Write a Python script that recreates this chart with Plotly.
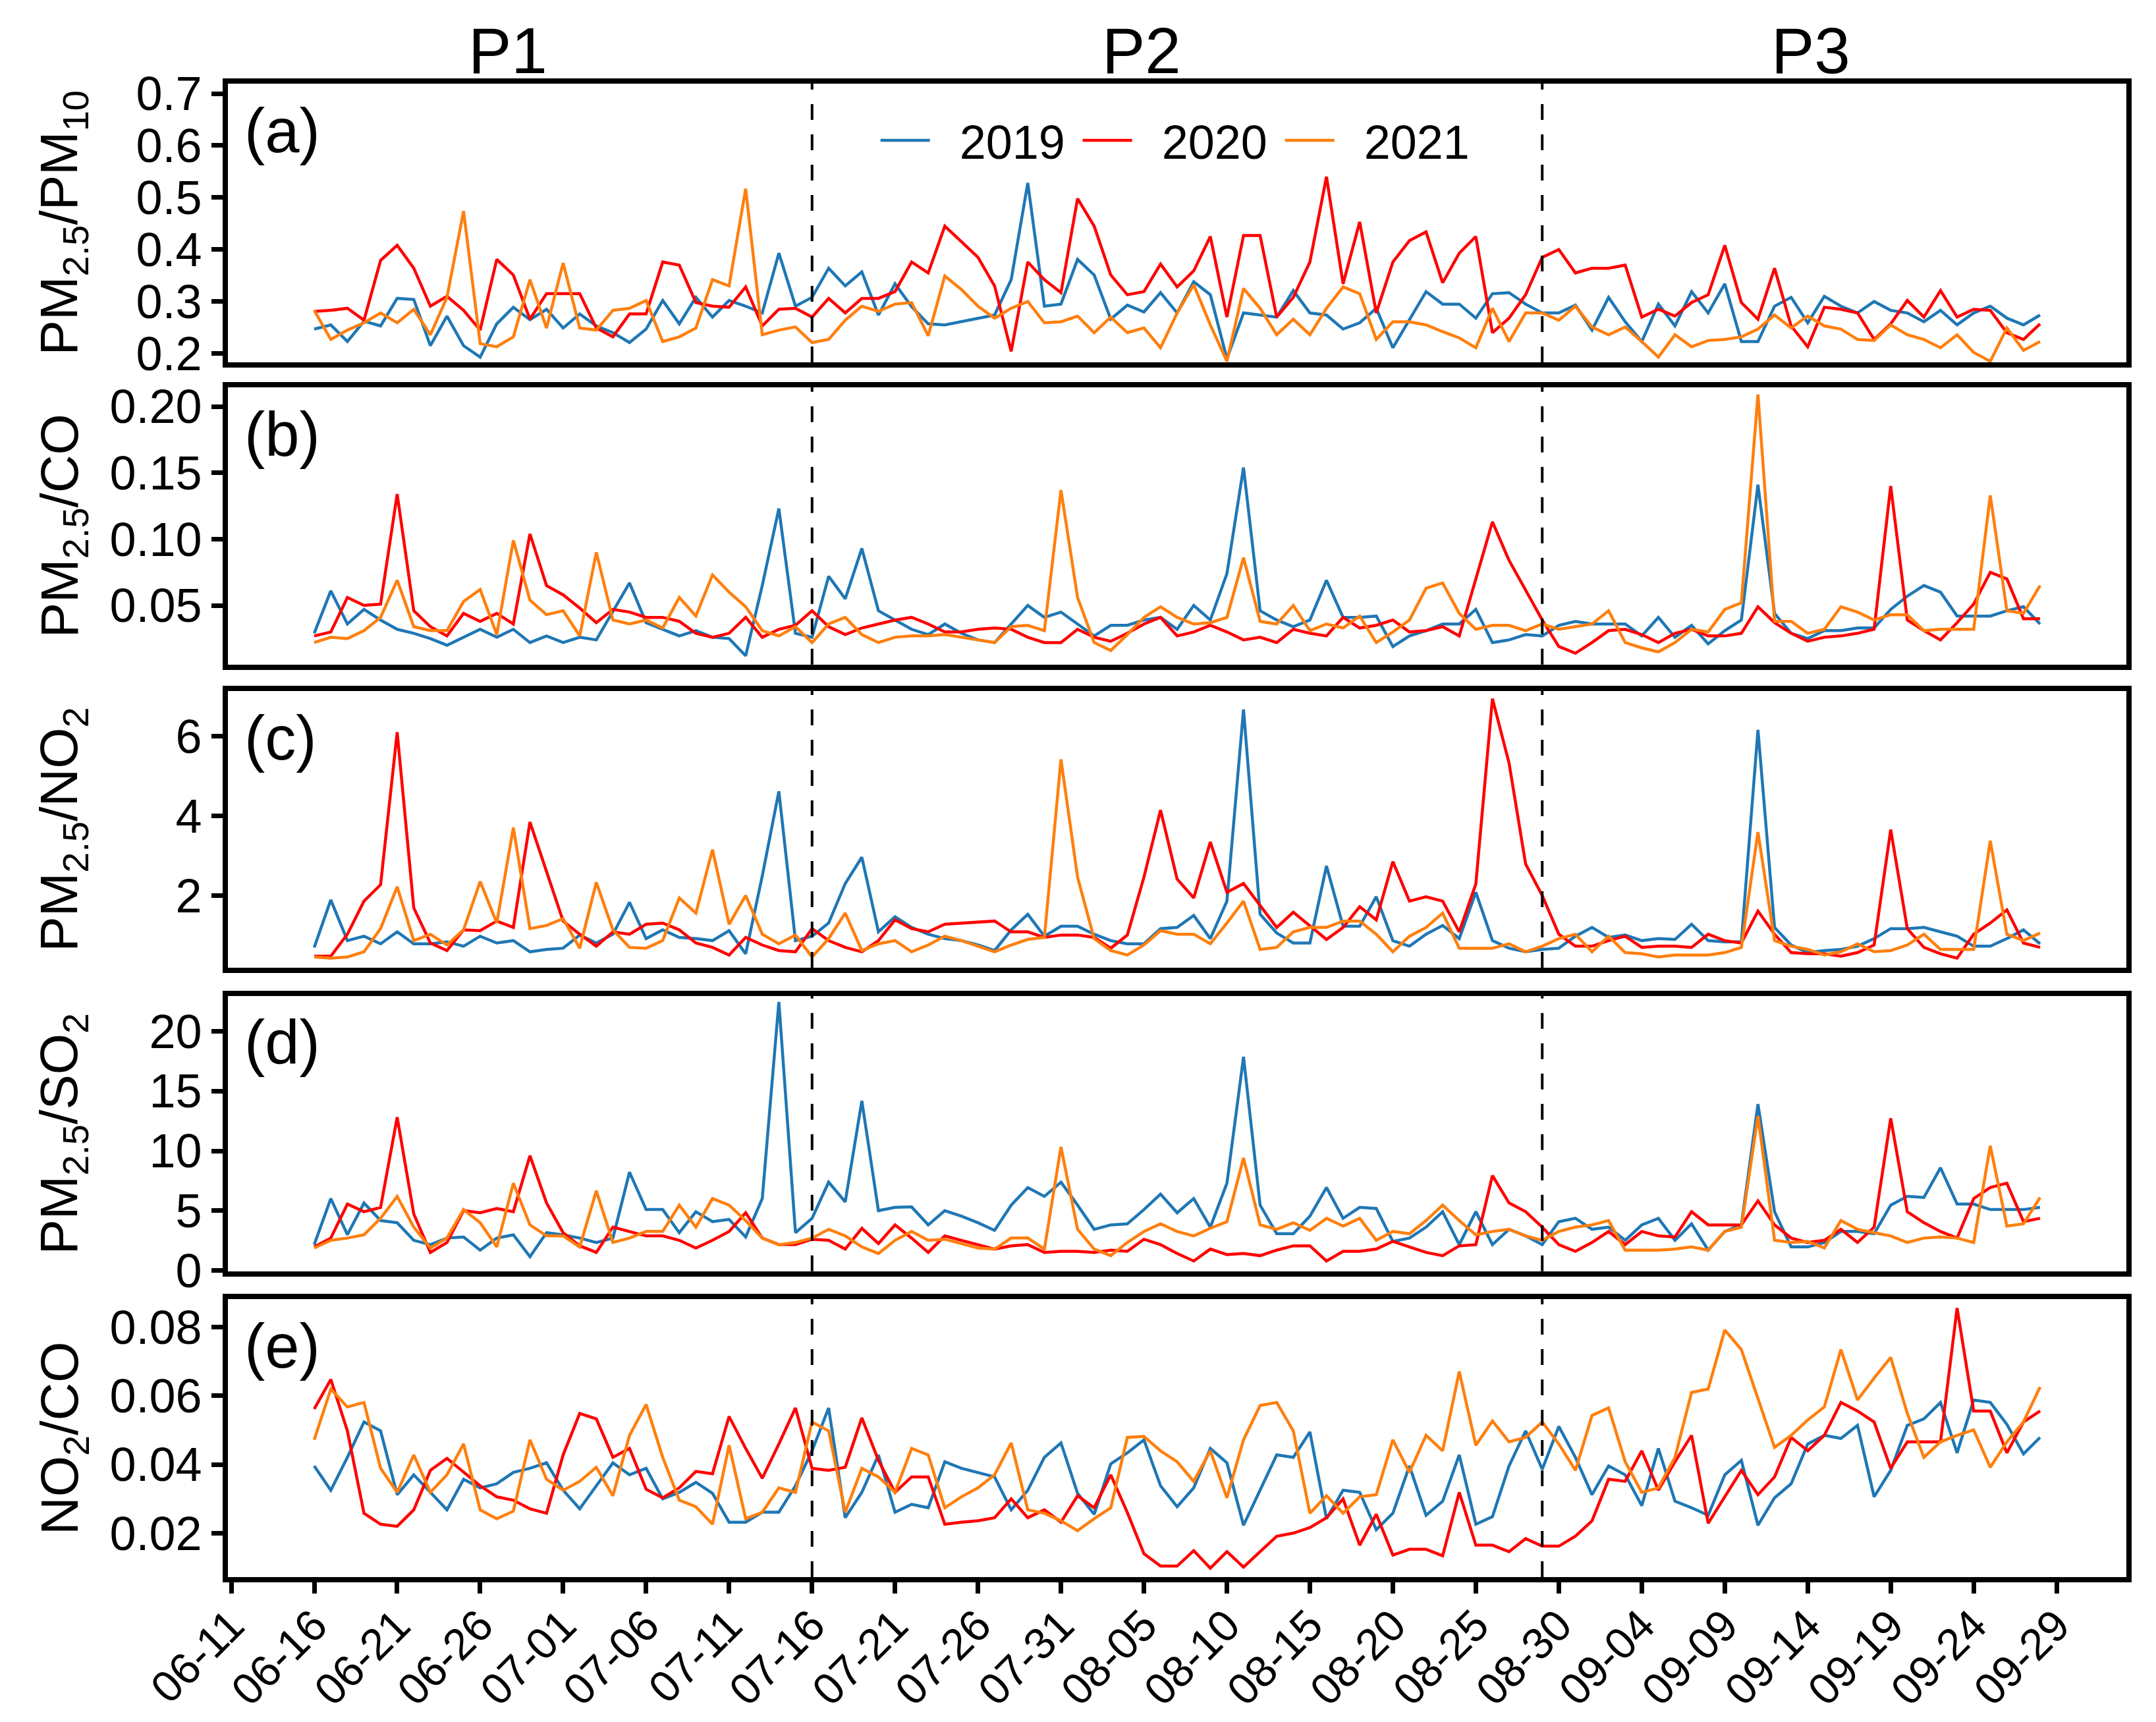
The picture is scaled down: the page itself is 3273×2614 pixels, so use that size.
import pandas as pd
import plotly.graph_objects as go
from plotly.subplots import make_subplots

# daily dates shared by every series
dates = pd.date_range("2021-06-16", "2021-09-28", freq="D")

years = ["2019", "2020", "2021"]
colors = ["#1F77B4", "#FF0000", "#FF7F0E"]

# (a) PM2.5/PM10
pm_pm10_2019 = [0.247, 0.255, 0.223, 0.262, 0.253, 0.306, 0.304, 0.215, 0.272, 0.215,
                0.193, 0.257, 0.289, 0.265, 0.285, 0.249, 0.276, 0.253, 0.240, 0.221,
                0.247, 0.302, 0.257, 0.308, 0.270, 0.302, 0.291, 0.278, 0.393, 0.291,
                0.308, 0.364, 0.330, 0.357, 0.274, 0.334, 0.290, 0.257, 0.255, 0.261,
                0.268, 0.274, 0.342, 0.528, 0.291, 0.295, 0.381, 0.351, 0.266, 0.293,
                0.280, 0.317, 0.278, 0.338, 0.313, 0.190, 0.278, 0.274, 0.270, 0.321,
                0.278, 0.274, 0.247, 0.259, 0.287, 0.211, 0.266, 0.319, 0.295, 0.295,
                0.268, 0.315, 0.317, 0.295, 0.278, 0.278, 0.293, 0.245, 0.308, 0.261,
                0.223, 0.295, 0.253, 0.319, 0.278, 0.334, 0.223, 0.223, 0.291, 0.308,
                0.259, 0.310, 0.291, 0.278, 0.300, 0.283, 0.278, 0.261, 0.283, 0.255,
                0.278, 0.291, 0.268, 0.255, 0.274]
pm_pm10_2020 = [0.281, 0.283, 0.287, 0.264, 0.379, 0.408, 0.364, 0.291, 0.310, 0.283,
                0.245, 0.381, 0.351, 0.266, 0.315, 0.315, 0.315, 0.249, 0.232, 0.276,
                0.276, 0.376, 0.370, 0.298, 0.291, 0.289, 0.328, 0.253, 0.285, 0.287,
                0.270, 0.306, 0.278, 0.306, 0.306, 0.319, 0.376, 0.355, 0.445, 0.415,
                0.385, 0.330, 0.204, 0.376, 0.342, 0.317, 0.498, 0.445, 0.351, 0.313,
                0.319, 0.372, 0.328, 0.359, 0.425, 0.270, 0.427, 0.427, 0.270, 0.308,
                0.376, 0.540, 0.334, 0.453, 0.278, 0.376, 0.417, 0.434, 0.336, 0.393,
                0.425, 0.240, 0.268, 0.313, 0.385, 0.400, 0.355, 0.364, 0.364, 0.370,
                0.270, 0.285, 0.272, 0.298, 0.313, 0.408, 0.298, 0.266, 0.364, 0.253,
                0.213, 0.289, 0.285, 0.278, 0.227, 0.257, 0.302, 0.270, 0.321, 0.270,
                0.285, 0.283, 0.240, 0.227, 0.257]
pm_pm10_2021 = [0.283, 0.227, 0.245, 0.259, 0.278, 0.259, 0.285, 0.236, 0.308, 0.474,
                0.219, 0.213, 0.232, 0.342, 0.249, 0.374, 0.249, 0.245, 0.283, 0.287,
                0.302, 0.223, 0.232, 0.249, 0.342, 0.330, 0.517, 0.236, 0.245, 0.251,
                0.221, 0.227, 0.264, 0.291, 0.281, 0.295, 0.298, 0.234, 0.349, 0.323,
                0.291, 0.268, 0.287, 0.300, 0.259, 0.261, 0.272, 0.240, 0.270, 0.240,
                0.249, 0.211, 0.278, 0.332, 0.255, 0.185, 0.325, 0.287, 0.236, 0.266,
                0.236, 0.287, 0.328, 0.315, 0.227, 0.261, 0.261, 0.255, 0.242, 0.230,
                0.211, 0.287, 0.223, 0.278, 0.278, 0.264, 0.291, 0.251, 0.236, 0.251,
                0.223, 0.193, 0.236, 0.213, 0.225, 0.227, 0.232, 0.247, 0.274, 0.249,
                0.272, 0.253, 0.247, 0.227, 0.225, 0.255, 0.236, 0.227, 0.211, 0.236,
                0.202, 0.185, 0.249, 0.206, 0.223]

# (b) PM2.5/CO
pm_co_2019 = [0.029, 0.061, 0.036, 0.047, 0.039, 0.032, 0.029, 0.025, 0.020, 0.026,
              0.032, 0.026, 0.032, 0.022, 0.027, 0.022, 0.026, 0.024, 0.046, 0.067,
              0.037, 0.032, 0.027, 0.031, 0.026, 0.025, 0.012, 0.065, 0.123, 0.029,
              0.026, 0.072, 0.055, 0.093, 0.046, 0.039, 0.032, 0.028, 0.036, 0.029,
              0.024, 0.022, 0.036, 0.050, 0.041, 0.045, 0.036, 0.027, 0.035, 0.035,
              0.039, 0.041, 0.032, 0.050, 0.039, 0.074, 0.154, 0.046, 0.039, 0.034,
              0.039, 0.069, 0.041, 0.041, 0.042, 0.019, 0.027, 0.031, 0.036, 0.036,
              0.047, 0.022, 0.024, 0.028, 0.027, 0.035, 0.038, 0.036, 0.036, 0.036,
              0.027, 0.041, 0.026, 0.035, 0.021, 0.031, 0.039, 0.141, 0.044, 0.029,
              0.025, 0.031, 0.031, 0.033, 0.033, 0.047, 0.057, 0.065, 0.060, 0.042,
              0.042, 0.042, 0.046, 0.049, 0.036]
pm_co_2020 = [0.027, 0.030, 0.056, 0.050, 0.051, 0.134, 0.046, 0.034, 0.027, 0.044,
              0.038, 0.044, 0.036, 0.104, 0.065, 0.058, 0.048, 0.037, 0.047, 0.045,
              0.041, 0.041, 0.038, 0.029, 0.026, 0.029, 0.041, 0.026, 0.032, 0.035,
              0.046, 0.034, 0.028, 0.033, 0.036, 0.039, 0.041, 0.036, 0.030, 0.030,
              0.032, 0.033, 0.032, 0.026, 0.022, 0.022, 0.032, 0.026, 0.023, 0.029,
              0.036, 0.041, 0.027, 0.030, 0.035, 0.030, 0.024, 0.026, 0.022, 0.032,
              0.029, 0.027, 0.041, 0.033, 0.035, 0.039, 0.030, 0.031, 0.034, 0.027,
              0.070, 0.113, 0.084, 0.062, 0.039, 0.019, 0.014, 0.022, 0.031, 0.032,
              0.028, 0.022, 0.029, 0.032, 0.027, 0.027, 0.029, 0.049, 0.037, 0.029,
              0.023, 0.026, 0.027, 0.029, 0.032, 0.140, 0.039, 0.031, 0.024, 0.037,
              0.051, 0.075, 0.070, 0.040, 0.040]
pm_co_2021 = [0.022, 0.026, 0.025, 0.031, 0.041, 0.069, 0.034, 0.031, 0.031, 0.053,
              0.062, 0.028, 0.099, 0.054, 0.043, 0.046, 0.027, 0.090, 0.039, 0.036,
              0.039, 0.033, 0.056, 0.042, 0.073, 0.060, 0.049, 0.031, 0.027, 0.034,
              0.022, 0.036, 0.041, 0.028, 0.022, 0.026, 0.027, 0.027, 0.028, 0.026,
              0.024, 0.022, 0.034, 0.035, 0.031, 0.137, 0.056, 0.022, 0.016, 0.028,
              0.041, 0.049, 0.041, 0.036, 0.037, 0.041, 0.086, 0.038, 0.036, 0.050,
              0.031, 0.036, 0.033, 0.042, 0.022, 0.030, 0.039, 0.063, 0.067, 0.044,
              0.032, 0.035, 0.035, 0.031, 0.036, 0.032, 0.034, 0.036, 0.046, 0.022,
              0.018, 0.015, 0.022, 0.032, 0.030, 0.047, 0.052, 0.209, 0.038, 0.038,
              0.029, 0.032, 0.049, 0.045, 0.039, 0.043, 0.043, 0.031, 0.032, 0.032,
              0.032, 0.133, 0.046, 0.044, 0.065]

# (c) PM2.5/NO2
pm_no2_2019 = [0.71, 1.90, 0.88, 0.99, 0.80, 1.10, 0.80, 0.80, 0.85, 0.74,
               0.99, 0.82, 0.88, 0.60, 0.66, 0.69, 1.02, 0.82, 1.04, 1.84,
               0.93, 1.15, 0.96, 0.93, 0.88, 1.13, 0.55, 2.50, 4.62, 0.88,
               0.99, 1.32, 2.31, 2.97, 1.10, 1.48, 1.21, 1.04, 0.93, 0.88,
               0.77, 0.63, 1.15, 1.54, 0.99, 1.24, 1.24, 1.04, 0.88, 0.80,
               0.80, 1.18, 1.21, 1.51, 0.93, 1.87, 6.67, 1.54, 1.07, 0.82,
               0.82, 2.75, 1.24, 1.24, 1.98, 0.88, 0.74, 1.04, 1.26, 0.93,
               2.09, 0.88, 0.69, 0.60, 0.66, 0.69, 0.99, 1.21, 0.96, 1.02,
               0.88, 0.93, 0.91, 1.29, 0.88, 0.85, 0.85, 6.16, 1.21, 0.77,
               0.58, 0.63, 0.66, 0.74, 0.93, 1.18, 1.18, 1.21, 1.10, 0.99,
               0.74, 0.74, 0.93, 1.15, 0.80]
pm_no2_2020 = [0.49, 0.49, 1.04, 1.87, 2.28, 6.10, 1.70, 0.82, 0.63, 1.15,
               1.13, 1.37, 1.21, 3.85, 2.61, 1.37, 1.04, 0.74, 1.10, 1.04,
               1.29, 1.32, 1.15, 0.82, 0.71, 0.52, 0.96, 0.77, 0.63, 0.60,
               1.18, 0.88, 0.71, 0.60, 0.88, 1.40, 1.18, 1.10, 1.29, 1.32,
               1.35, 1.37, 1.10, 1.10, 0.96, 1.02, 1.02, 0.96, 0.69, 1.02,
               2.47, 4.15, 2.42, 1.95, 3.35, 2.09, 2.31, 1.76, 1.21, 1.59,
               1.24, 0.91, 1.21, 1.73, 1.40, 2.86, 1.87, 1.98, 1.87, 1.10,
               2.30, 6.94, 5.33, 2.80, 2.01, 1.04, 0.74, 0.74, 0.88, 0.99,
               0.71, 0.74, 0.74, 0.71, 1.04, 0.88, 0.82, 1.62, 1.04, 0.58,
               0.55, 0.55, 0.49, 0.58, 0.77, 3.66, 1.18, 0.71, 0.55, 0.44,
               1.04, 1.32, 1.65, 0.82, 0.71]
pm_no2_2021 = [0.47, 0.44, 0.47, 0.60, 1.18, 2.23, 0.88, 1.04, 0.77, 1.15,
               2.36, 1.32, 3.71, 1.18, 1.26, 1.43, 0.69, 2.34, 1.15, 0.71,
               0.69, 0.88, 1.95, 1.57, 3.16, 1.29, 2.01, 1.04, 0.80, 1.02,
               0.47, 0.93, 1.57, 0.63, 0.80, 0.88, 0.60, 0.77, 0.99, 0.88,
               0.74, 0.60, 0.77, 0.91, 0.96, 5.42, 2.47, 0.93, 0.63, 0.52,
               0.77, 1.13, 1.04, 1.04, 0.80, 1.32, 1.87, 0.66, 0.71, 1.10,
               1.21, 1.21, 1.37, 1.37, 1.04, 0.60, 0.99, 1.21, 1.57, 0.69,
               0.69, 0.69, 0.80, 0.60, 0.74, 0.93, 1.04, 0.60, 0.99, 0.58,
               0.55, 0.47, 0.52, 0.52, 0.52, 0.58, 0.71, 3.60, 0.88, 0.74,
               0.66, 0.52, 0.60, 0.80, 0.60, 0.63, 0.77, 1.04, 0.66, 0.66,
               0.66, 3.38, 1.04, 0.88, 1.07]

# (d) PM2.5/SO2
pm_so2_2019 = [2.17, 6.02, 3.00, 5.65, 4.18, 4.00, 2.53, 2.17, 2.72, 2.81,
               1.71, 2.72, 2.99, 1.16, 3.17, 2.99, 2.72, 2.35, 2.72, 8.22,
               5.10, 5.10, 3.17, 4.92, 4.09, 4.28, 2.81, 6.02, 22.44, 3.17,
               4.37, 7.39, 5.74, 14.18, 5.01, 5.28, 5.32, 3.82, 5.01, 4.55,
               4.00, 3.36, 5.47, 6.94, 6.20, 7.39, 5.47, 3.45, 3.82, 3.91,
               5.10, 6.39, 4.83, 6.02, 3.63, 7.30, 17.85, 5.47, 3.08, 3.08,
               4.55, 6.94, 4.37, 5.28, 5.19, 2.44, 2.72, 3.63, 4.92, 2.17,
               4.92, 2.17, 3.45, 2.90, 2.17, 4.09, 4.37, 3.45, 3.63, 2.53,
               3.82, 4.37, 2.53, 3.91, 1.71, 3.27, 3.82, 13.90, 4.92, 1.98,
               1.98, 2.35, 3.27, 3.27, 3.08, 5.47, 6.20, 6.11, 8.59, 5.56,
               5.56, 5.10, 5.10, 5.10, 5.28]
pm_so2_2020 = [1.98, 2.72, 5.56, 4.92, 5.28, 12.81, 4.73, 1.52, 2.35, 5.01,
               4.83, 5.19, 4.92, 9.60, 5.65, 3.17, 2.07, 1.52, 3.63, 3.27,
               2.90, 2.90, 2.53, 1.89, 2.53, 3.27, 4.83, 2.72, 2.17, 2.17,
               2.62, 2.53, 1.80, 3.54, 2.26, 3.82, 2.72, 1.52, 2.90, 2.53,
               2.17, 1.80, 2.07, 2.17, 1.52, 1.61, 1.61, 1.52, 1.71, 1.61,
               2.62, 2.17, 1.43, 0.80, 1.80, 1.34, 1.43, 1.25, 1.71, 2.07,
               2.07, 0.80, 1.61, 1.61, 1.80, 2.44, 1.98, 1.52, 1.25, 2.07,
               2.17, 7.94, 5.65, 4.92, 3.63, 2.17, 1.61, 2.35, 3.27, 2.17,
               3.27, 2.90, 2.81, 4.92, 3.82, 3.82, 3.82, 5.83, 3.82, 2.72,
               2.35, 2.53, 3.45, 2.35, 3.63, 12.72, 4.92, 4.00, 3.27, 2.72,
               6.02, 6.94, 7.30, 4.09, 4.37]
pm_so2_2021 = [1.89, 2.53, 2.72, 2.99, 4.37, 6.20, 3.63, 1.89, 2.72, 5.10,
               4.00, 1.98, 7.30, 3.82, 2.90, 2.90, 1.98, 6.66, 2.35, 2.72,
               3.27, 3.27, 5.47, 3.63, 6.02, 5.47, 4.18, 2.72, 2.17, 2.35,
               2.72, 3.45, 2.90, 1.98, 1.43, 2.53, 3.27, 2.53, 2.62, 2.26,
               1.89, 1.80, 2.72, 2.72, 1.80, 10.33, 3.45, 1.80, 1.25, 2.35,
               3.27, 3.91, 3.27, 2.90, 3.54, 4.09, 9.41, 3.82, 3.45, 4.00,
               3.36, 4.37, 3.72, 4.37, 2.53, 3.27, 3.08, 4.18, 5.47, 4.18,
               2.99, 3.27, 3.45, 2.90, 2.53, 3.27, 3.63, 3.82, 4.18, 1.71,
               1.71, 1.71, 1.80, 1.98, 1.71, 3.27, 3.63, 12.90, 2.53, 2.35,
               2.44, 1.89, 4.18, 3.45, 3.17, 2.90, 2.35, 2.72, 2.81, 2.72,
               2.35, 10.42, 3.72, 3.91, 6.11]

# (e) NO2/CO
no2_co_2019 = [0.0396, 0.0325, 0.0421, 0.0524, 0.0498, 0.0312, 0.0370, 0.0319, 0.0268, 0.0357,
               0.0332, 0.0344, 0.0377, 0.0389, 0.0405, 0.0325, 0.0271, 0.0338, 0.0405, 0.0370,
               0.0389, 0.0300, 0.0319, 0.0348, 0.0316, 0.0232, 0.0232, 0.0261, 0.0261, 0.0338,
               0.0440, 0.0565, 0.0245, 0.0319, 0.0428, 0.0261, 0.0284, 0.0274, 0.0408, 0.0389,
               0.0377, 0.0364, 0.0268, 0.0325, 0.0421, 0.0463, 0.0316, 0.0255, 0.0402, 0.0434,
               0.0472, 0.0338, 0.0277, 0.0332, 0.0447, 0.0405, 0.0223, 0.0325, 0.0428, 0.0421,
               0.0495, 0.0242, 0.0325, 0.0319, 0.0210, 0.0258, 0.0396, 0.0252, 0.0293, 0.0428,
               0.0226, 0.0248, 0.0396, 0.0498, 0.0386, 0.0511, 0.0421, 0.0312, 0.0396, 0.0370,
               0.0280, 0.0447, 0.0293, 0.0274, 0.0252, 0.0370, 0.0412, 0.0223, 0.0303, 0.0344,
               0.0460, 0.0485, 0.0476, 0.0514, 0.0306, 0.0383, 0.0514, 0.0533, 0.0581, 0.0434,
               0.0588, 0.0581, 0.0517, 0.0431, 0.0479]
no2_co_2020 = [0.0562, 0.0648, 0.0498, 0.0258, 0.0226, 0.0220, 0.0268, 0.0383, 0.0418, 0.0377,
               0.0338, 0.0306, 0.0296, 0.0271, 0.0258, 0.0428, 0.0549, 0.0533, 0.0421, 0.0447,
               0.0328, 0.0303, 0.0332, 0.0380, 0.0373, 0.0540, 0.0447, 0.0360, 0.0460, 0.0565,
               0.0389, 0.0383, 0.0392, 0.0536, 0.0412, 0.0319, 0.0364, 0.0364, 0.0226, 0.0232,
               0.0236, 0.0245, 0.0300, 0.0245, 0.0268, 0.0232, 0.0309, 0.0274, 0.0370, 0.0260,
               0.0140, 0.0104, 0.0104, 0.0149, 0.0098, 0.0146, 0.0101, 0.0146, 0.0191, 0.0200,
               0.0216, 0.0245, 0.0300, 0.0165, 0.0255, 0.0136, 0.0153, 0.0153, 0.0134, 0.0319,
               0.0165, 0.0165, 0.0146, 0.0184, 0.0162, 0.0162, 0.0191, 0.0236, 0.0357, 0.0351,
               0.0440, 0.0325, 0.0408, 0.0485, 0.0229, 0.0306, 0.0383, 0.0312, 0.0364, 0.0479,
               0.0440, 0.0485, 0.0581, 0.0556, 0.0524, 0.0389, 0.0466, 0.0466, 0.0466, 0.0856,
               0.0556, 0.0556, 0.0434, 0.0524, 0.0556]
no2_co_2021 = [0.0472, 0.0620, 0.0568, 0.0581, 0.0389, 0.0319, 0.0428, 0.0319, 0.0370, 0.0460,
               0.0268, 0.0242, 0.0264, 0.0472, 0.0357, 0.0325, 0.0351, 0.0392, 0.0309, 0.0485,
               0.0575, 0.0421, 0.0296, 0.0277, 0.0226, 0.0456, 0.0242, 0.0261, 0.0332, 0.0319,
               0.0524, 0.0498, 0.0261, 0.0389, 0.0364, 0.0319, 0.0447, 0.0428, 0.0274, 0.0306,
               0.0332, 0.0370, 0.0463, 0.0268, 0.0258, 0.0236, 0.0207, 0.0242, 0.0274, 0.0479,
               0.0482, 0.0440, 0.0408, 0.0351, 0.0440, 0.0303, 0.0472, 0.0572, 0.0581, 0.0498,
               0.0258, 0.0309, 0.0258, 0.0306, 0.0312, 0.0472, 0.0377, 0.0485, 0.0440, 0.0671,
               0.0456, 0.0527, 0.0466, 0.0479, 0.0524, 0.0460, 0.0383, 0.0543, 0.0565, 0.0408,
               0.0319, 0.0332, 0.0421, 0.0610, 0.0620, 0.0792, 0.0735, 0.0594, 0.0450, 0.0485,
               0.0530, 0.0568, 0.0735, 0.0588, 0.0652, 0.0712, 0.0549, 0.0421, 0.0466, 0.0485,
               0.0501, 0.0392, 0.0466, 0.0524, 0.0626]

period_names = ["P1", "P2", "P3"]
period_breaks = ["2021-07-16", "2021-08-29"]

panel_series = [
    [pm_pm10_2019, pm_pm10_2020, pm_pm10_2021],
    [pm_co_2019, pm_co_2020, pm_co_2021],
    [pm_no2_2019, pm_no2_2020, pm_no2_2021],
    [pm_so2_2019, pm_so2_2020, pm_so2_2021],
    [no2_co_2019, no2_co_2020, no2_co_2021],
]
panel_titles = ["PM<sub>2.5</sub>/PM<sub>10</sub>", "PM<sub>2.5</sub>/CO",
                "PM<sub>2.5</sub>/NO<sub>2</sub>", "PM<sub>2.5</sub>/SO<sub>2</sub>",
                "NO<sub>2</sub>/CO"]
panel_labels = ["(a)", "(b)", "(c)", "(d)", "(e)"]
y_ranges = [[0.183, 0.719], [0.0055, 0.2144], [0.20, 7.14], [-0.05, 22.95], [0.0072, 0.0882]]
y_ticks = [[0.2, 0.3, 0.4, 0.5, 0.6, 0.7], [0.05, 0.10, 0.15, 0.20], [2, 4, 6],
           [0, 5, 10, 15, 20], [0.02, 0.04, 0.06, 0.08]]
y_formats = [".1f", ".2f", "d", "d", ".2f"]
domains = [[0.8134, 1.0], [0.6111, 0.7966], [0.4080, 0.5935], [0.2048, 0.3892], [0.0, 0.1861]]

fig = make_subplots(rows=5, cols=1, shared_xaxes=True)

for r in range(5):
    for k in range(3):
        # small non-breaking gap between legend line and year text
        fig.add_scatter(x=dates, y=panel_series[r][k], mode="lines", name="\u00a0\u00a0" + years[k],
                        line=dict(color=colors[k], width=4.5),
                        showlegend=(r == 0), row=r + 1, col=1)
    fig.update_yaxes(domain=domains[r], range=y_ranges[r], tickvals=y_ticks[r],
                     tickformat=y_formats[r], row=r + 1, col=1)
    ax = "" if r == 0 else str(r + 1)
    # panel letter
    fig.add_annotation(text=panel_labels[r], xref="x" + ax + " domain", yref="y" + ax + " domain",
                       x=0.008, y=0.83, xanchor="left", yanchor="middle", showarrow=False,
                       font=dict(size=94, color="black"))
    # y title
    fig.add_annotation(text=panel_titles[r], xref="paper", yref="paper",
                       x=-0.105, y=sum(domains[r]) / 2, xanchor="left", yanchor="middle",
                       textangle=-90, showarrow=False, font=dict(size=80, color="black"))

fig.update_xaxes(range=["2021-06-10 19:12", "2021-10-03 04:48"], showline=True, linecolor="black",
                 linewidth=8, mirror=True, showgrid=False, zeroline=False, ticks="",
                 tickformat="%m-%d", dtick=5 * 86400000, tick0="2021-06-11", automargin=False)
fig.update_xaxes(ticks="outside", ticklen=17, tickwidth=7, tickcolor="black", tickangle=-45,
                 tickfont=dict(size=67, color="black"), ticklabelstandoff=-18, row=5, col=1)
fig.update_yaxes(showline=True, linecolor="black", linewidth=8, mirror=True, showgrid=False,
                 zeroline=False, ticks="outside", ticklen=17, tickwidth=7, tickcolor="black",
                 tickfont=dict(size=72, color="black"), automargin=False)

for d in period_breaks:
    fig.add_vline(x=d, line=dict(color="black", width=4, dash="24px,22px"), row="all", col=1)

# period names above the top panel
for name, xp in zip(period_names, [0.1475, 0.4813, 0.8338]):
    fig.add_annotation(text=name, xref="paper", yref="paper", x=xp, y=1.022,
                       xanchor="center", yanchor="middle", showarrow=False,
                       font=dict(size=98, color="black"))

fig.update_layout(
    width=3273, height=2614,
    margin=dict(l=338, r=53, t=119, b=228, autoexpand=False),
    plot_bgcolor="white", paper_bgcolor="white",
    font=dict(family="Liberation Sans", color="black"),
    legend=dict(orientation="h", x=0.342, y=0.962, xanchor="left", yanchor="middle",
                font=dict(size=72), bgcolor="rgba(0,0,0,0)",
                itemwidth=75, entrywidth=217, entrywidthmode="pixels")
)

fig.write_html("out.html")
